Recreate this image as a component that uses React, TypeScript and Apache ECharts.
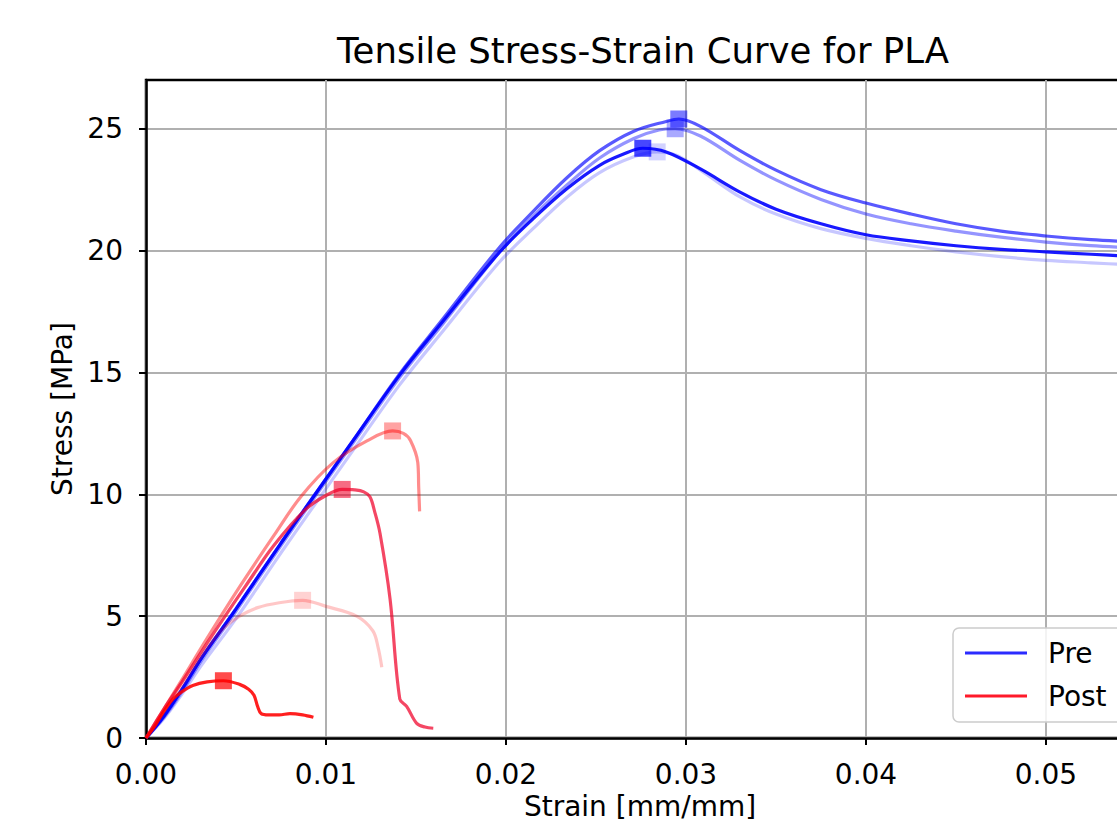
import React, { useEffect, useRef } from "react";
import * as echarts from "echarts";

// ---- Data ----
const xTicks = [0, 0.01, 0.02, 0.03, 0.04, 0.05];
const yTicks = [0, 5, 10, 15, 20, 25];

// Pre curves (blue)
const pre1Strain = [0, 0.001, 0.002, 0.0031, 0.005, 0.0075, 0.0093, 0.0115, 0.0141, 0.0165, 0.0196, 0.0215, 0.0234, 0.0252, 0.0265, 0.0276, 0.0289, 0.0308, 0.033, 0.035, 0.0375, 0.04, 0.0425, 0.045, 0.0475, 0.05, 0.0525, 0.055];
const pre1Stress = [0, 0.9, 2.0, 3.3, 5.3, 8.0, 9.9, 12.2, 14.9, 17.1, 19.9, 21.3, 22.55, 23.5, 23.95, 24.2, 24.05, 23.35, 22.4, 21.7, 21.1, 20.65, 20.4, 20.2, 20.05, 19.95, 19.85, 19.75];

const pre2Strain = [0, 0.001, 0.002, 0.0031, 0.005, 0.0075, 0.0093, 0.0115, 0.0141, 0.0165, 0.0196, 0.0215, 0.0234, 0.0252, 0.0271, 0.0289, 0.0296, 0.0308, 0.033, 0.035, 0.0375, 0.04, 0.0425, 0.045, 0.0475, 0.05, 0.0525, 0.055];
const pre2Stress = [0, 0.9, 2.0, 3.3, 5.3, 8.0, 9.9, 12.2, 14.95, 17.2, 20.1, 21.6, 23.0, 24.1, 24.9, 25.3, 25.4, 25.1, 24.1, 23.3, 22.5, 21.95, 21.5, 21.1, 20.8, 20.6, 20.45, 20.35];

const pre3Strain = [0, 0.001, 0.002, 0.0031, 0.005, 0.0075, 0.0093, 0.0115, 0.0141, 0.0165, 0.0196, 0.0215, 0.0234, 0.0252, 0.0271, 0.0285, 0.0294, 0.0308, 0.033, 0.035, 0.0375, 0.04, 0.0425, 0.045, 0.0475, 0.05, 0.0525, 0.055];
const pre3Stress = [0, 0.85, 1.9, 3.2, 5.2, 7.9, 9.8, 12.1, 14.8, 17.0, 19.9, 21.4, 22.7, 23.8, 24.6, 24.95, 25.0, 24.7, 23.7, 22.9, 22.1, 21.5, 21.1, 20.8, 20.55, 20.35, 20.2, 20.1];

const pre4Strain = [0, 0.001, 0.002, 0.0031, 0.005, 0.0075, 0.0093, 0.0115, 0.0141, 0.0165, 0.0196, 0.0215, 0.0234, 0.0252, 0.0271, 0.0284, 0.0295, 0.031, 0.033, 0.035, 0.0375, 0.04, 0.0425, 0.045, 0.0475, 0.05, 0.0525, 0.055];
const pre4Stress = [0, 0.8, 1.8, 3.0, 4.9, 7.6, 9.5, 11.8, 14.5, 16.7, 19.5, 20.9, 22.2, 23.2, 23.85, 24.05, 23.9, 23.2, 22.2, 21.5, 20.9, 20.5, 20.2, 19.95, 19.75, 19.6, 19.5, 19.4];

// Post curves (red)
const post1Strain = [0, 0.0005, 0.001, 0.0015, 0.002, 0.0026, 0.0034, 0.0043, 0.0052, 0.0057, 0.006, 0.0062, 0.0064, 0.0068, 0.0074, 0.008, 0.0087, 0.0093];
const post1Stress = [0, 0.5, 1.1, 1.6, 1.9, 2.15, 2.3, 2.35, 2.2, 2.0, 1.75, 1.3, 1.0, 0.95, 0.95, 1.0, 0.95, 0.85];

const post2Strain = [0, 0.001, 0.002, 0.0034, 0.0043, 0.0055, 0.0071, 0.0089, 0.01, 0.0109, 0.0116, 0.0121, 0.01244, 0.0127, 0.013, 0.01356, 0.0141, 0.01448, 0.01504, 0.0155, 0.01596];
const post2Stress = [0, 1.2, 2.3, 3.9, 4.9, 6.2, 7.9, 9.4, 9.95, 10.2, 10.18, 10.1, 9.9, 9.3, 8.4, 5.7, 1.6, 1.3, 0.6, 0.45, 0.4];

const post3Strain = [0, 0.001, 0.002, 0.0034, 0.0052, 0.0071, 0.0086, 0.0104, 0.0123, 0.0137, 0.0143, 0.0147, 0.0151, 0.01515, 0.0152];
const post3Stress = [0, 1.2, 2.4, 4.1, 6.2, 8.3, 9.9, 11.3, 12.2, 12.6, 12.5, 12.2, 11.3, 10.3, 9.3];

const post4Strain = [0, 0.001, 0.002, 0.0034, 0.0043, 0.0052, 0.0062, 0.0074, 0.0087, 0.01, 0.0117, 0.0126, 0.0129, 0.0131];
const post4Stress = [0, 1.1, 2.2, 3.7, 4.5, 5.0, 5.35, 5.55, 5.65, 5.4, 5.0, 4.4, 3.7, 2.9];

const preCurves = [
  { strain: pre4Strain, stress: pre4Stress, color: "rgba(0,0,255,0.22)" },
  { strain: pre3Strain, stress: pre3Stress, color: "rgba(0,0,255,0.42)" },
  { strain: pre2Strain, stress: pre2Stress, color: "rgba(0,0,255,0.65)" },
  { strain: pre1Strain, stress: pre1Stress, color: "rgba(0,0,255,0.9)" },
];
const postCurves = [
  { strain: post4Strain, stress: post4Stress, color: "rgba(255,0,0,0.22)" },
  { strain: post3Strain, stress: post3Stress, color: "rgba(255,0,0,0.45)" },
  { strain: post2Strain, stress: post2Stress, color: "rgba(240,0,40,0.72)" },
  { strain: post1Strain, stress: post1Stress, color: "rgba(255,0,0,0.88)" },
];

const FONT = "DejaVu Sans";

function peakOf(xs: number[], ys: number[]) {
  let idx = 0;
  ys.forEach((v, i) => {
    if (v > ys[idx]) idx = i;
  });
  return [xs[idx], ys[idx]];
}

function buildSeries() {
  const series: any[] = [];
  [...preCurves, ...postCurves].forEach((c, k) => {
    series.push({
      type: "line",
      name: "curve" + k,
      data: c.strain.map((x, i) => [x, c.stress[i]]),
      showSymbol: false,
      smooth: 0.35,
      lineStyle: { color: c.color, width: 3.2 },
      itemStyle: { color: c.color },
      silent: true,
      z: 3,
    });
    series.push({
      type: "scatter",
      name: "peak" + k,
      data: [peakOf(c.strain, c.stress)],
      symbol: "rect",
      symbolSize: 17,
      itemStyle: { color: c.color },
      silent: true,
      z: 4,
    });
  });
  series.push({
    type: "line",
    name: "Pre",
    data: [],
    lineStyle: { color: "#2b2bff", width: 3 },
    itemStyle: { color: "#2b2bff" },
  });
  series.push({
    type: "line",
    name: "Post",
    data: [],
    lineStyle: { color: "#ff1a2a", width: 3 },
    itemStyle: { color: "#ff1a2a" },
  });
  return series;
}

export default function App() {
  const ref = useRef<HTMLDivElement>(null);
  useEffect(() => {
    if (!ref.current) return;
    const chart = echarts.init(ref.current, undefined, { renderer: "svg" });
    chart.setOption({
      animation: false,
      backgroundColor: "#ffffff",
      title: {
        text: "Tensile Stress-Strain Curve for PLA",
        left: 638,
        top: 27,
        textAlign: "center",
        textStyle: { fontFamily: FONT, fontSize: 35.5, fontWeight: "normal", color: "#000" },
      },
      grid: {
        left: 146,
        top: 80,
        width: 988,
        height: 658,
        show: true,
        borderColor: "#000",
        borderWidth: 2.5,
        backgroundColor: "transparent",
        containLabel: false,
        outerBoundsMode: "none",
      },
      legend: {
        data: ["Pre", "Post"],
        orient: "vertical",
        left: 953,
        top: 628,
        icon: "rect",
        itemWidth: 62,
        itemHeight: 3,
        itemGap: 15,
        padding: [11, 60, 12, 12],
        backgroundColor: "rgba(255,255,255,0.85)",
        borderColor: "#cccccc",
        borderWidth: 1.5,
        borderRadius: 6,
        selectedMode: false,
        textStyle: {
          fontFamily: FONT,
          fontSize: 28,
          color: "#000",
          lineHeight: 28,
          padding: [0, 0, 0, 16],
        },
      },
      xAxis: {
        type: "value",
        min: 0,
        max: 0.05489,
        interval: 0.01,
        name: "Strain [mm/mm]",
        nameLocation: "middle",
        nameGap: 52,
        nameTextStyle: { fontFamily: FONT, fontSize: 28, color: "#000" },
        axisLine: { show: true, lineStyle: { color: "#000", width: 2.5 } },
        axisTick: { show: true, length: 7, lineStyle: { color: "#000", width: 2 }, customValues: xTicks },
        axisLabel: {
          fontFamily: FONT,
          fontSize: 28,
          color: "#000",
          margin: 22,
          customValues: xTicks,
          formatter: (v: number) => v.toFixed(2),
        },
        splitLine: { show: true, lineStyle: { color: "#b0b0b0", width: 2 } },
      },
      yAxis: {
        type: "value",
        min: 0,
        max: 27,
        interval: 5,
        name: "Stress [MPa]",
        nameLocation: "middle",
        nameGap: 70,
        nameTextStyle: { fontFamily: FONT, fontSize: 28, color: "#000" },
        axisLine: { show: true, lineStyle: { color: "#000", width: 2.5 } },
        axisTick: { show: true, length: 7, lineStyle: { color: "#000", width: 2 }, customValues: yTicks },
        axisLabel: {
          fontFamily: FONT,
          fontSize: 28,
          color: "#000",
          margin: 23,
          customValues: yTicks,
          formatter: (v: number) => String(v),
        },
        splitLine: { show: true, lineStyle: { color: "#b0b0b0", width: 2 } },
      },
      series: buildSeries(),
    });
    return () => chart.dispose();
  }, []);
  return (
    <div
      ref={ref}
      style={{ position: "absolute", left: 0, top: 0, width: 1117, height: 822 }}
    />
  );
}
